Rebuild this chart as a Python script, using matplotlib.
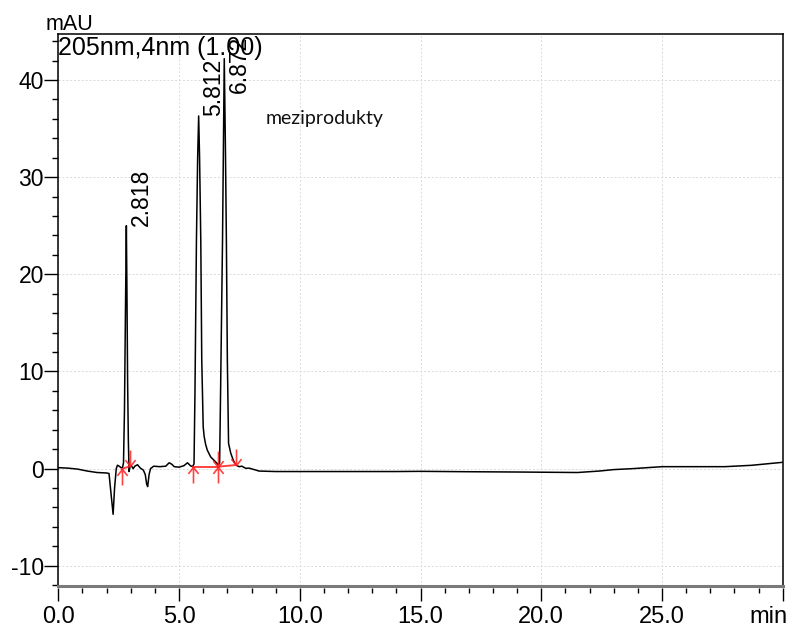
import matplotlib
matplotlib.use("Agg")
import matplotlib.pyplot as plt
from matplotlib.path import Path
from matplotlib.markers import MarkerStyle
from matplotlib.ticker import MultipleLocator, FixedLocator

plt.rcParams["font.family"] = ["Liberation Sans", "DejaVu Sans"]

# Detector trace, 205 nm (time in min, signal in mAU)
time_min = [
    0.00, 0.40, 0.80, 1.20, 1.60, 2.00, 2.10, 2.18, 2.27, 2.33, 2.40, 2.45,
    2.52, 2.60, 2.66, 2.70, 2.74, 2.78, 2.818, 2.84, 2.87, 2.90, 2.93, 2.97,
    3.02, 3.10, 3.17, 3.28, 3.40, 3.52, 3.60, 3.66, 3.70, 3.76, 3.82, 3.95,
    4.20, 4.45, 4.59, 4.70, 4.80, 5.00, 5.20, 5.35, 5.47, 5.56, 5.62, 5.66,
    5.72, 5.77, 5.812, 5.85, 5.90, 5.94, 6.00, 6.04, 6.10, 6.17, 6.31, 6.45,
    6.55, 6.63, 6.68, 6.72, 6.80, 6.872, 6.92, 6.96, 7.00, 7.05, 7.14, 7.24,
    7.35, 7.49, 7.60, 7.76, 7.90, 8.18, 8.31, 9.00, 10.0, 12.0, 14.0, 15.0,
    17.0, 19.0, 20.5, 21.5, 22.4, 23.0, 23.8, 25.0, 26.7, 27.6, 28.7, 30.0,
]
signal_mau = [
    0.10, 0.05, -0.05, -0.25, -0.40, -0.45, -0.50, -2.50, -4.70, -2.00, 0.00, 0.35,
    0.25, 0.10, 0.10, 0.60, 6.0, 16.0, 25.0, 19.0, 9.0, 3.0, -0.30, 0.20,
    0.30, 0.00, 0.25, 0.40, 0.05, -0.15, -0.60, -1.60, -1.85, -0.60, 0.00, 0.25,
    0.20, 0.25, 0.60, 0.45, 0.20, 0.15, 0.30, 0.60, 0.30, 0.20, 0.50, 8.0,
    23.5, 32.0, 36.3, 32.0, 23.5, 11.2, 4.3, 3.3, 2.5, 1.9, 1.2, 0.85,
    0.60, 0.37, 0.60, 8.0, 23.5, 42.2, 33.0, 23.5, 11.2, 2.6, 1.6, 0.9,
    0.37, 0.20, 0.25, 0.03, 0.05, -0.15, -0.25, -0.30, -0.30, -0.30, -0.30, -0.28,
    -0.32, -0.35, -0.38, -0.40, -0.25, -0.10, 0.00, 0.20, 0.20, 0.20, 0.34, 0.65,
]

# Integrated peaks
peak_rt = [2.818, 5.812, 6.872]
peak_height = [25.0, 36.3, 42.2]
peak_labels = ["2.818", "5.812", "6.872"]
peak_start_t = [2.62, 5.59, 6.63]
peak_start_v = [-0.05, 0.20, 0.20]
peak_end_t = [2.97, 6.63, 7.35]
peak_end_v = [0.25, 0.20, 0.37]

x_ticks = [0, 5, 10, 15, 20, 25]
x_ticklabels = ["0.0", "5.0", "10.0", "15.0", "20.0", "25.0"]
y_ticks = [-10, 0, 10, 20, 30, 40]
y_ticklabels = ["-10", "0", "10", "20", "30", "40"]

W, H = 791, 628
fig = plt.figure(figsize=(W / 100, H / 100), dpi=100)
left, right, top, bottom = 58.3, 782.8, 34.3, 585.7
ax = fig.add_axes([left / W, (H - bottom) / H, (right - left) / W, (bottom - top) / H])

ax.set_xlim(0, 30)
ax.set_ylim(-12.05, 44.7)

# grid
ax.set_axisbelow(True)
ax.grid(True, which="major", color="#dadada", linestyle=(0, (2, 2)), linewidth=0.7)

# trace
ax.plot(time_min, signal_mau, color="black", linewidth=1.1, zorder=3)

# integration baselines and start/end arrows
for ts, vs, te, ve in zip(peak_start_t, peak_start_v, peak_end_t, peak_end_v):
    ax.plot([ts, te], [vs, ve], color="#ff2020", linewidth=1.4, zorder=4, alpha=0.85)

codes = [Path.MOVETO, Path.LINETO, Path.MOVETO, Path.LINETO, Path.LINETO]
up_arrow = Path([(0, 0), (0, -1), (-0.32, -0.4), (0, 0), (0.32, -0.4)], codes)
down_arrow = Path([(0, 0), (0, 1), (-0.32, 0.4), (0, 0), (0.32, 0.4)], codes)
ax.plot(peak_start_t, peak_start_v, linestyle="none", marker=MarkerStyle(up_arrow),
        markersize=23, markeredgecolor="#ff2020", markerfacecolor="none",
        markeredgewidth=1.2, zorder=4, alpha=0.85)
ax.plot(peak_end_t, peak_end_v, linestyle="none", marker=MarkerStyle(down_arrow),
        markersize=23, markeredgecolor="#ff2020", markerfacecolor="none",
        markeredgewidth=1.2, zorder=4, alpha=0.85)

# retention-time labels, kept inside the frame
ytop = ax.get_ylim()[1]
for rt, h, lab in zip(peak_rt, peak_height, peak_labels):
    ax.annotate(lab, xy=(rt, min(h, ytop - 6.0)), xytext=(2.5, 0),
                textcoords="offset points", rotation=90, ha="left", va="bottom",
                fontsize=16.5, zorder=5)

ax.text(8.6, 35.5, "meziprodukty", fontsize=14, family="Lato", color="#111111",
        ha="left", va="baseline")

# frame
for side in ("top", "left", "right"):
    ax.spines[side].set_color("black")
    ax.spines[side].set_linewidth(1.1)
ax.spines["bottom"].set_position(("outward", 1.6))
ax.spines["bottom"].set_visible(False)
ax.plot([0, 1], [0, 0], transform=ax.transAxes, color="#7a7a7a", linewidth=2.2,
        clip_on=False, zorder=6)

# ticks
ax.xaxis.set_major_locator(FixedLocator(x_ticks + [30]))
ax.set_xticklabels(x_ticklabels + [""], fontsize=17)
ax.xaxis.set_minor_locator(MultipleLocator(1))
ax.yaxis.set_major_locator(FixedLocator(y_ticks))
ax.set_yticklabels(y_ticklabels, fontsize=16.5)
ax.yaxis.set_minor_locator(MultipleLocator(2))
ax.tick_params(axis="x", which="major", direction="out", length=9, width=1.0, pad=4)
ax.tick_params(axis="x", which="minor", direction="out", length=3.5, width=1.0)
ax.tick_params(axis="y", which="major", direction="out", length=10.3, width=1.0, pad=0)
ax.tick_params(axis="y", which="minor", direction="out", length=4.2, width=1.0)

ax.annotate("min", xy=(1, 0), xycoords="axes fraction", xytext=(3.2, -26.9),
            textcoords="offset points", ha="right", va="baseline", fontsize=17)

fig.text(46 / W, 1 - 30 / H, "mAU", fontsize=15.5, ha="left", va="baseline")
fig.text(58.5 / W, 1 - 55 / H, "205nm,4nm (1.00)", fontsize=18, ha="left",
         va="baseline")

fig.savefig("out.png", dpi=100)
